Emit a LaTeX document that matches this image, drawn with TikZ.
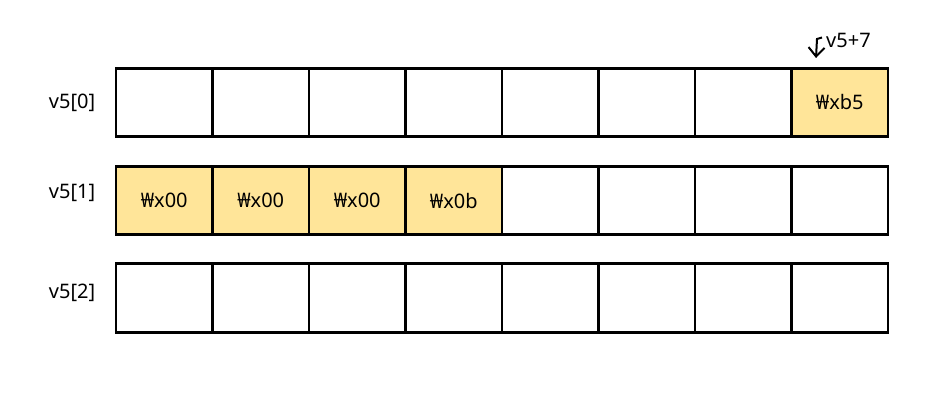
\documentclass[tikz,border=0pt]{standalone}
\usepackage{fontspec}
\setmainfont{Noto Sans}
\usetikzlibrary{arrows.meta}
\definecolor{cellfill}{HTML}{FFE599}
\begin{document}
\begin{tikzpicture}[x=1pt,y=-1pt,
  cell/.style={draw=black,line width=2.8pt,minimum width=96.5pt,minimum height=68.5pt,inner sep=0pt,font=\fontsize{20}{24}\selectfont},
  filled/.style={fill=cellfill},
  lbl/.style={font=\fontsize{20}{24}\selectfont,inner sep=0pt}]
\useasboundingbox (0,0) rectangle (945,404);
\foreach \r/\yc in {0/102.5,1/200.5,2/298} {
  \foreach \c in {0,...,7} {
    \node[cell] (r\r c\c) at ({116+96.5*\c+48.25},\yc) {};
  }
}
\node[cell,filled] (r0c7) at ({116+96.5*7+48.25},102.5) {₩xb5};
\node[cell,filled] (r1c0) at ({116+48.25},200.5) {₩x00};
\node[cell,filled] (r1c1) at ({116+96.5+48.25},200.5) {₩x00};
\node[cell,filled] (r1c2) at ({116+96.5*2+48.25},200.5) {₩x00};
\node[cell,filled] (r1c3) at ({116+96.5*3+48.25},200.5) {₩x0b};
\node[lbl] (l0) at (72,103) {v5[0]};
\node[lbl] (l1) at (72,193) {v5[1]};
\node[lbl] (l2) at (72,293) {v5[2]};
\node[lbl,anchor=west] (p) at (826,40) {v5+7};
\coordinate (tip) at (816,58);
\draw[line width=2pt,-{Straight Barb[length=9pt,width=16pt]}] (822,37.5) -- (817,39) -- (tip);
\end{tikzpicture}
\end{document}
